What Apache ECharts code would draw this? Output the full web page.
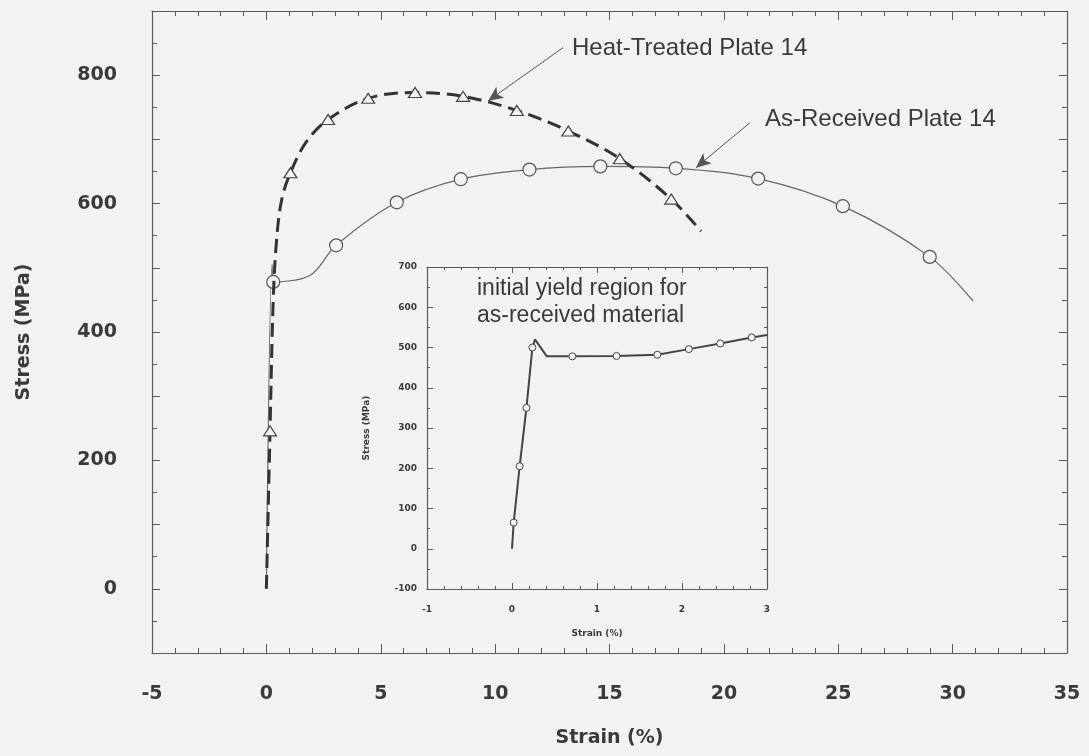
<!DOCTYPE html>
<html>
<head>
<meta charset="utf-8">
<script src="https://cdn.jsdelivr.net/npm/echarts@6/dist/echarts.min.js"></script>
<style>
html,body{margin:0;padding:0;background:#f2f2f2;}
#chart{width:1089px;height:756px;}
</style>
</head>
<body>
<div id="chart"></div>
<script>
// ---- Main chart data (strain %, stress MPa) ----
const heatStrain = [0, 0.16, 0.3, 0.45, 0.67, 1.05, 1.76, 2.7, 4.45, 6.5, 8.6, 10.95, 13.2, 15.45, 17.7, 19.0];
const heatStress = [0, 246, 450, 545, 606, 648, 697, 731, 764, 773, 767, 745, 713, 670, 607, 557];
const heatMarked = [0, 1, 0, 0, 0, 1, 0, 1, 1, 1, 1, 1, 1, 1, 1, 0];

const recvStrain = [0, 0.25, 0.3, 1.9, 3.05, 5.7, 8.5, 11.5, 14.6, 17.9, 21.5, 25.2, 29.0, 30.9];
const recvStress = [0, 505, 478, 488, 535, 602, 638, 653, 658, 655, 639, 596, 517, 448];
const recvMarked = [0, 0, 1, 0, 1, 1, 1, 1, 1, 1, 1, 1, 1, 0];

// ---- Inset data: initial yield region, as-received ----
const insetStrain = [0, 0.02, 0.09, 0.17, 0.24, 0.27, 0.41, 0.71, 1.23, 1.71, 2.08, 2.45, 2.82, 3.0];
const insetStress = [0, 65, 205, 350, 500, 520, 478, 478, 479, 482, 496, 510, 525, 531];
const insetMarked = [0, 1, 1, 1, 1, 0, 0, 1, 1, 1, 1, 1, 1, 0];

// tick labels
const mainYLabels = [0, 200, 400, 600, 800];
const mainXLabels = [-5, 0, 5, 10, 15, 20, 25, 30, 35];
const insetYLabels = [-100, 0, 100, 200, 300, 400, 500, 600, 700];
const insetXLabels = [-1, 0, 1, 2, 3];

// annotation arrows (data coords: tail -> head)
const heatArrow = [[12.97, 843], [9.69, 760]];
const recvArrow = [[21.14, 726], [18.78, 656]];

const BG = '#f2f2f2';
const INK = '#3a3a3a';
const FRAME = '#5a5a5a';
const BOLD = 'DejaVu Sans';

function build(xs, ys, marks, sym) {
  return xs.map((x, i) => ({ value: [x, ys[i]], symbol: marks[i] ? sym : 'none' }));
}

function axisCommon(min, max, interval, split, labelsArr, opts) {
  return Object.assign({
    type: 'value', min: min, max: max, interval: interval,
    splitLine: { show: false },
    axisLine: { show: true, onZero: false, lineStyle: { color: FRAME, width: 1.2 } },
    axisTick: { show: true, inside: true, length: opts.tick, lineStyle: { color: FRAME } },
    minorTick: { show: true, splitNumber: split, length: opts.minor, lineStyle: { color: FRAME } },
    axisLabel: {
      show: opts.label, margin: opts.margin, color: INK, fontFamily: BOLD, fontWeight: 'bold', fontSize: opts.fs,
      formatter: function (v) { return labelsArr.indexOf(Math.round(v * 1000) / 1000) >= 0 ? String(v) : ''; }
    }
  }, opts.extra || {});
}

const chart = echarts.init(document.getElementById('chart'), null, { renderer: 'canvas' });

const option = {
  backgroundColor: BG,
  animation: false,
  grid: [
    { left: 152, right: 22, top: 11, bottom: 103 },
    { left: 427, right: 322, top: 267, bottom: 167 }
  ],
  xAxis: [
    axisCommon(-5, 35, 5, 5, mainXLabels, { tick: 9, minor: 5, label: true, margin: 32, fs: 19,
      extra: { gridIndex: 0, position: 'bottom', name: 'Strain (%)', nameLocation: 'middle', nameGap: 76,
        nameTextStyle: { color: INK, fontFamily: BOLD, fontWeight: 'bold', fontSize: 19 } } }),
    axisCommon(-5, 35, 5, 5, mainXLabels, { tick: 9, minor: 5, label: false, margin: 8, fs: 12,
      extra: { gridIndex: 0, position: 'top' } }),
    axisCommon(-1, 3, 1, 5, insetXLabels, { tick: 6, minor: 3, label: true, margin: 16, fs: 9,
      extra: { gridIndex: 1, position: 'bottom', name: 'Strain (%)', nameLocation: 'middle', nameGap: 40,
        nameTextStyle: { color: INK, fontFamily: BOLD, fontWeight: 'bold', fontSize: 9 } } }),
    axisCommon(-1, 3, 1, 5, insetXLabels, { tick: 6, minor: 3, label: false, margin: 8, fs: 9,
      extra: { gridIndex: 1, position: 'top' } })
  ],
  yAxis: [
    axisCommon(-100, 900, 100, 2, mainYLabels, { tick: 8, minor: 5, label: true, margin: 35, fs: 19,
      extra: { gridIndex: 0, position: 'left', name: 'Stress (MPa)', nameLocation: 'middle', nameGap: 118,
        nameTextStyle: { color: INK, fontFamily: BOLD, fontWeight: 'bold', fontSize: 19 } } }),
    axisCommon(-100, 900, 100, 2, mainYLabels, { tick: 8, minor: 5, label: false, margin: 8, fs: 12,
      extra: { gridIndex: 0, position: 'right' } }),
    axisCommon(-100, 700, 100, 2, insetYLabels, { tick: 6, minor: 3, label: true, margin: 10, fs: 9,
      extra: { gridIndex: 1, position: 'left', name: 'Stress (MPa)', nameLocation: 'middle', nameGap: 56,
        nameTextStyle: { color: INK, fontFamily: BOLD, fontWeight: 'bold', fontSize: 9 } } }),
    axisCommon(-100, 700, 100, 2, insetYLabels, { tick: 6, minor: 3, label: false, margin: 8, fs: 9,
      extra: { gridIndex: 1, position: 'right' } })
  ],
  series: [
    {
      name: 'As-Received Plate 14', type: 'line', xAxisIndex: 0, yAxisIndex: 0,
      data: build(recvStrain, recvStress, recvMarked, 'circle'),
      smooth: 0.35, showSymbol: true, symbolSize: 13,
      lineStyle: { color: '#666', width: 1.2 },
      itemStyle: { color: BG, borderColor: '#555', borderWidth: 1.2 },
      z: 2,
      markLine: {
        silent: true, symbol: ['none', 'arrow'], symbolSize: [10, 15], animation: false,
        label: { show: false },
        lineStyle: { color: '#555', width: 1, type: 'solid' },
        data: [[{ coord: recvArrow[0] }, { coord: recvArrow[1] }]]
      }
    },
    {
      name: 'Heat-Treated Plate 14', type: 'line', xAxisIndex: 0, yAxisIndex: 0,
      data: build(heatStrain, heatStress, heatMarked, 'triangle'),
      smooth: 0.35, showSymbol: true, symbolSize: [13, 10],
      lineStyle: { color: '#333', width: 3, type: [14, 7] },
      itemStyle: { color: BG, borderColor: '#444', borderWidth: 1.2 },
      z: 3,
      markLine: {
        silent: true, symbol: ['none', 'arrow'], symbolSize: [10, 15], animation: false,
        label: { show: false },
        lineStyle: { color: '#555', width: 1, type: 'solid' },
        data: [[{ coord: heatArrow[0] }, { coord: heatArrow[1] }]]
      }
    },
    {
      name: 'Initial yield (as-received)', type: 'line', xAxisIndex: 2, yAxisIndex: 2,
      data: build(insetStrain, insetStress, insetMarked, 'circle'),
      smooth: false, showSymbol: true, symbolSize: 7,
      lineStyle: { color: '#444', width: 2 },
      itemStyle: { color: BG, borderColor: '#444', borderWidth: 1 },
      z: 4
    }
  ],
  graphic: [
    { type: 'text', left: 572, top: 36, style: { text: 'Heat-Treated Plate 14', fill: INK, font: '24px "Liberation Sans"' } },
    { type: 'text', left: 765, top: 107, style: { text: 'As-Received Plate 14', fill: INK, font: '24px "Liberation Sans"' } },
    { type: 'text', left: 477, top: 277, style: { text: 'initial yield region for', fill: INK, font: '23px "Liberation Sans"' } },
    { type: 'text', left: 477, top: 304, style: { text: 'as-received material', fill: INK, font: '23px "Liberation Sans"' } }
  ]
};
chart.setOption(option);
</script>
</body>
</html>
